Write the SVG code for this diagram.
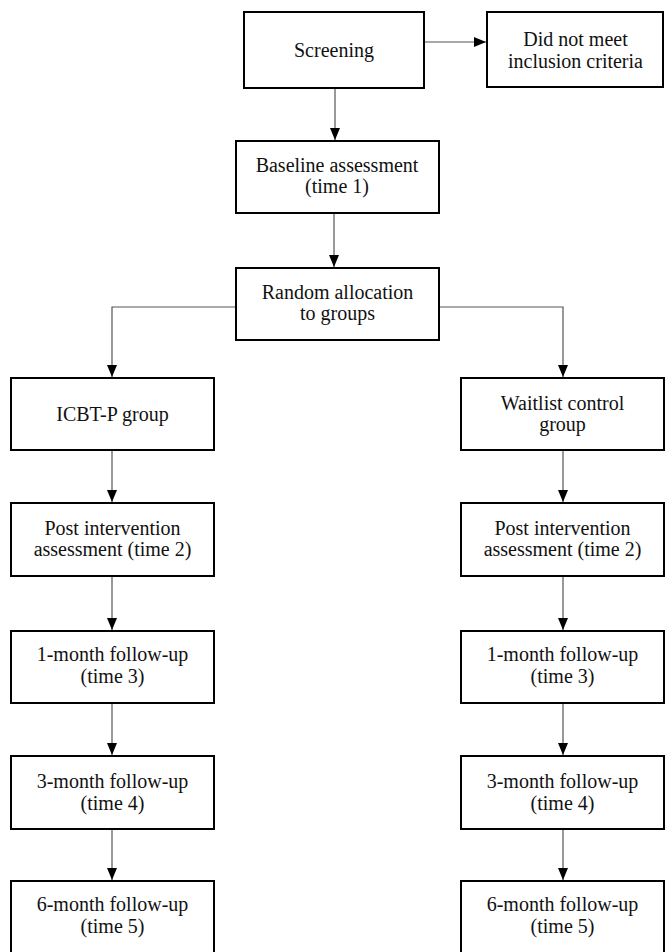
<svg xmlns="http://www.w3.org/2000/svg" width="665" height="952" viewBox="0 0 665 952">
<style>
.box{fill:#fff;stroke:#000;stroke-width:2}
.lbl{font-family:"Liberation Serif","Times New Roman",serif;font-size:20px;fill:#111;text-anchor:middle}
.conn{fill:none;stroke:#555;stroke-width:1.2}
</style>
<defs>
<marker id="arr" markerUnits="userSpaceOnUse" markerWidth="12" markerHeight="10" refX="12" refY="5" orient="auto">
<path d="M0,0 L12,5 L0,10 Z" fill="#000"/>
</marker>
</defs>
<rect width="665" height="952" fill="#fff"/>
<g id="connectors">
<line class="conn" x1="425" y1="42" x2="486" y2="42" marker-end="url(#arr)"/>
<line class="conn" x1="335" y1="89" x2="335" y2="140" marker-end="url(#arr)"/>
<line class="conn" x1="334" y1="214" x2="334" y2="267" marker-end="url(#arr)"/>
<path class="conn" d="M236,307 H112 V377" marker-end="url(#arr)"/>
<path class="conn" d="M439,307 H563 V377" marker-end="url(#arr)"/>
<line class="conn" x1="112" y1="451" x2="112" y2="502" marker-end="url(#arr)"/>
<line class="conn" x1="112" y1="577" x2="112" y2="630" marker-end="url(#arr)"/>
<line class="conn" x1="112" y1="704" x2="112" y2="755" marker-end="url(#arr)"/>
<line class="conn" x1="112" y1="830" x2="112" y2="880" marker-end="url(#arr)"/>
<line class="conn" x1="563" y1="451" x2="563" y2="502" marker-end="url(#arr)"/>
<line class="conn" x1="563" y1="577" x2="563" y2="630" marker-end="url(#arr)"/>
<line class="conn" x1="563" y1="704" x2="563" y2="755" marker-end="url(#arr)"/>
<line class="conn" x1="563" y1="830" x2="563" y2="880" marker-end="url(#arr)"/>
</g>
<g id="screening"><rect class="box" x="244" y="12" width="180" height="76"/><text class="lbl" x="334" y="57">Screening</text></g>
<g id="excluded"><rect class="box" x="487" y="12" width="176" height="75"/><text class="lbl" x="575.5" y="46">Did not meet</text><text class="lbl" x="575.5" y="68">inclusion criteria</text></g>
<g id="baseline"><rect class="box" x="236" y="141" width="203" height="72"/><text class="lbl" x="337" y="172">Baseline assessment</text><text class="lbl" x="337" y="193">(time 1)</text></g>
<g id="random"><rect class="box" x="236" y="268" width="203" height="72"/><text class="lbl" x="337.5" y="299">Random allocation</text><text class="lbl" x="337.5" y="320">to groups</text></g>
<g id="icbt"><rect class="box" x="11" y="378" width="203" height="72"/><text class="lbl" x="112.5" y="421">ICBT-P group</text></g>
<g id="waitlist"><rect class="box" x="461" y="378" width="203" height="72"/><text class="lbl" x="562.5" y="410">Waitlist control</text><text class="lbl" x="562.5" y="431">group</text></g>
<g id="post-left"><rect class="box" x="11" y="503" width="203" height="73"/><text class="lbl" x="112.5" y="535">Post intervention</text><text class="lbl" x="112.5" y="556">assessment (time 2)</text></g>
<g id="post-right"><rect class="box" x="461" y="503" width="203" height="73"/><text class="lbl" x="562.5" y="535">Post intervention</text><text class="lbl" x="562.5" y="556">assessment (time 2)</text></g>
<g id="m1-left"><rect class="box" x="11" y="631" width="203" height="72"/><text class="lbl" x="112.5" y="661">1-month follow-up</text><text class="lbl" x="112.5" y="683">(time 3)</text></g>
<g id="m1-right"><rect class="box" x="461" y="631" width="203" height="72"/><text class="lbl" x="562.5" y="661">1-month follow-up</text><text class="lbl" x="562.5" y="683">(time 3)</text></g>
<g id="m3-left"><rect class="box" x="11" y="756" width="203" height="73"/><text class="lbl" x="112.5" y="788">3-month follow-up</text><text class="lbl" x="112.5" y="810">(time 4)</text></g>
<g id="m3-right"><rect class="box" x="461" y="756" width="203" height="73"/><text class="lbl" x="562.5" y="788">3-month follow-up</text><text class="lbl" x="562.5" y="810">(time 4)</text></g>
<g id="m6-left"><rect class="box" x="11" y="881" width="203" height="72"/><text class="lbl" x="112.5" y="911">6-month follow-up</text><text class="lbl" x="112.5" y="933">(time 5)</text></g>
<g id="m6-right"><rect class="box" x="461" y="881" width="203" height="72"/><text class="lbl" x="562.5" y="911">6-month follow-up</text><text class="lbl" x="562.5" y="933">(time 5)</text></g>
</svg>
